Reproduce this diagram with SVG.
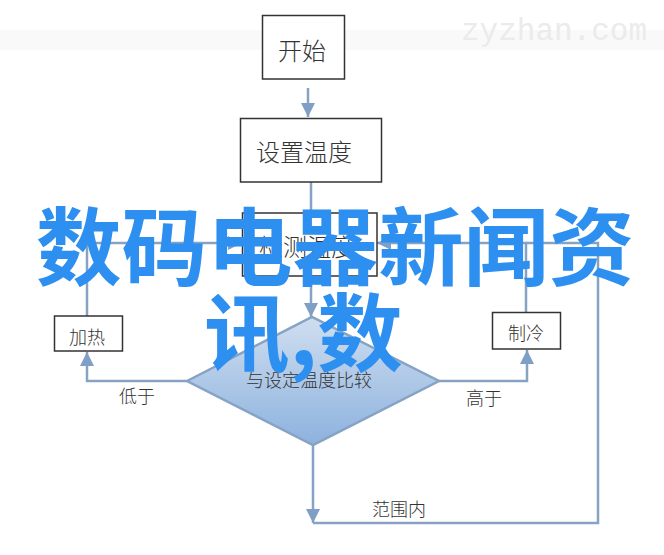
<svg xmlns="http://www.w3.org/2000/svg" width="664" height="555" viewBox="0 0 664 555">
<style>
.box{fill:#fff;stroke:#333;stroke-width:1.5}
.lbl{font-family:"Noto Sans CJK SC","Liberation Serif",serif;font-weight:300;fill:#333}
.l24{font-size:24px}
.l18{font-size:18px}
.con{fill:none;stroke:#86a3c4;stroke-width:2.5}
.title{font-family:"Noto Sans CJK SC","Liberation Sans",sans-serif;font-weight:700;font-size:85.500px;fill:#2d8ff0}
</style>
<defs>
<marker id="arr" markerUnits="userSpaceOnUse" markerWidth="16" markerHeight="14" refX="14" refY="7" orient="auto"><path d="M0 0L14 7L0 14Z" fill="#7f9fc6"/></marker>
<linearGradient id="dg" x1="0" y1="0" x2="0" y2="1"><stop offset="0" stop-color="#cfdef0"/><stop offset="1" stop-color="#8db2de"/></linearGradient>
</defs>
<rect width="664" height="555" fill="#fff"/>
<rect x="0" y="30" width="664" height="20" fill="#f9f9f9"/>
<text x="461" y="40" font-family="Liberation Mono,monospace" font-size="31" fill="#ebebeb">zyzhan.com</text>
<g id="connectors">
<path class="con" d="M308 88V117" marker-end="url(#arr)"/>
<path class="con" d="M311 182V213"/>
<path class="con" d="M311 276V317" marker-end="url(#arr)"/>
<path class="con" d="M187 381H87V352" marker-end="url(#arr)"/>
<path class="con" d="M87 316V243H242" marker-end="url(#arr)"/>
<path class="con" d="M439 381H527V350" marker-end="url(#arr)"/>
<path class="con" d="M526 312V243H377" marker-end="url(#arr)"/>
<path class="con" d="M313 445V523" marker-end="url(#arr)"/>
<path class="con" d="M313 523H598V243H526"/>
</g>
<g id="node-start"><rect class="box" x="262.500" y="15.500" width="82" height="63.500"/><text class="lbl l24" x="278" y="60">开始</text></g>
<g id="node-set"><rect class="box" x="240.500" y="118.500" width="141" height="63.500"/><text class="lbl l24" x="256" y="161">设置温度</text></g>
<g id="node-measure"><rect class="box" x="242.500" y="213" width="134.500" height="63"/><text class="lbl l24" x="259" y="256">检测温度</text></g>
<g id="node-heat"><rect class="box" x="54.500" y="316" width="68" height="35"/><text class="lbl l18" x="69" y="344">加热</text></g>
<g id="node-cool"><rect class="box" x="492.500" y="312.500" width="68" height="36.500"/><text class="lbl l18" x="508" y="340">制冷</text></g>
<g id="node-compare"><path d="M187 381L312 317L439 381L313 445Z" fill="url(#dg)" stroke="#86a3c4" stroke-width="2.500"/><text class="lbl l18" x="246" y="387">与设定温度比较</text></g>
<g id="labels">
<text class="lbl l18" x="119" y="403">低于</text>
<text class="lbl l18" x="466" y="405">高于</text>
<text class="lbl l18" x="372" y="516">范围内</text>
</g>
<g id="title">
<text class="title" x="36" y="279">数码电器新闻资</text>
<text class="title" x="204" y="365">讯,数</text>
</g>
</svg>
